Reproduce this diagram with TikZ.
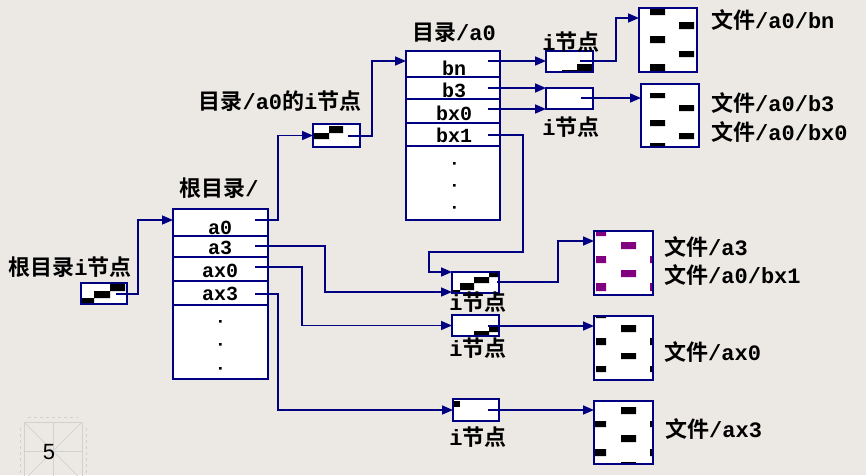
\documentclass[tikz,border=0pt]{standalone}
\usepackage{fontspec}
\setmonofont{Liberation Mono}
\setsansfont{Liberation Sans}
\newfontfamily\cjk{Noto Sans CJK SC}[BoldFont=* Bold]
\usetikzlibrary{arrows.meta}
\definecolor{bg}{RGB}{236,233,228}
\definecolor{navy}{RGB}{0,0,128}
\definecolor{purp}{RGB}{128,0,128}
\newcommand\zh[1]{{\cjk\bfseries #1}}
\newcommand\lblfont{\ttfamily\bfseries\fontsize{22}{24}\selectfont}
\newcommand\entfont{\ttfamily\bfseries\fontsize{20}{22}\selectfont}
\begin{document}
\begin{tikzpicture}[x=1pt,y=-1pt,
  boxline/.style={draw=navy,line width=1.6pt},
  box/.style={boxline,fill=white,inner sep=0pt,outer sep=0pt,rectangle},
  ptr/.style={draw=navy,line width=1.6pt,-{Triangle[length=11pt,width=9pt]}},
  lbl/.style={inner sep=0pt,font=\lblfont},
  ent/.style={inner sep=0pt,font=\entfont}]
\fill[bg] (0,0) rectangle (866,475);
\useasboundingbox (0,0) rectangle (866,475);

% slide number frame
\begin{scope}[draw=black!18,line width=0.7pt]
\draw (24,422) rectangle (82,480);
\draw (24,422) -- (82,480) (82,422) -- (24,480);
\draw (53,422) -- (53,480) (24,451) -- (82,451);
\draw[dashed] (28,417) -- (78,417);
\draw[dashed] (20,428) -- (20,475) (86,428) -- (86,475);
\end{scope}
\node[inner sep=0pt,font=\sffamily\fontsize{22}{24}\selectfont] (pg) at (49,452) {5};

% boxes
\node[box,minimum width=46pt,minimum height=21pt] (rin) at (104,293.5) {};
\node[box,minimum width=95pt,minimum height=170pt] (rd) at (220.5,294) {};
\node[box,minimum width=47pt,minimum height=23pt] (ai) at (336.5,135.5) {};
\node[box,minimum width=94pt,minimum height=169pt] (da) at (453,135.5) {};
\node[box,minimum width=47pt,minimum height=21pt] (bi1) at (569.5,61.5) {};
\node[box,minimum width=47pt,minimum height=21pt] (bi2) at (569.5,98.5) {};
\node[box,minimum width=58pt,minimum height=64pt] (fb1) at (668,40) {};
\node[box,minimum width=58pt,minimum height=63pt] (fb2) at (670,115.5) {};
\node[box,minimum width=47pt,minimum height=21pt] (bi3) at (475.5,282.5) {};
\node[box,minimum width=59pt,minimum height=64pt] (fa3) at (623.5,263) {};
\node[box,minimum width=47pt,minimum height=21pt] (bi4) at (475.5,325.5) {};
\node[box,minimum width=59pt,minimum height=64pt] (fx0) at (623.5,348) {};
\node[box,minimum width=46pt,minimum height=22pt] (bi5) at (476,410) {};
\node[box,minimum width=59pt,minimum height=63pt] (fx3) at (623.5,432.5) {};

% blocks
\fill[black] (110,284) rectangle (125,291) (94,291) rectangle (110,298) (81,298) rectangle (94,304);
\fill[black] (314,133) rectangle (329,139) (329,126) rectangle (343,133);
\fill[black] (577,64) rectangle (593,71) (562,70) rectangle (577,72);
\fill[black] (489,273) rectangle (499,277) (474,277) rectangle (489,283) (460,283) rectangle (474,290) (453,290) rectangle (460,293);
\fill[black] (474,331) rectangle (489,336) (489,326) rectangle (499,332);
\fill[black] (454,401) rectangle (460,407);
\fill[black] (650,9) rectangle (665,15) (650,36) rectangle (665,43) (650,64) rectangle (665,71)
  (679,22) rectangle (694,29) (679,51) rectangle (694,57);
\fill[black] (650,93) rectangle (665,98) (650,120) rectangle (665,126) (650,143) rectangle (665,147)
  (679,105) rectangle (694,111) (679,133) rectangle (694,139);
\fill[purp] (596,232) rectangle (606,236) (596,256) rectangle (606,263) (596,283) rectangle (606,291)
  (621,242) rectangle (636,249) (621,270) rectangle (636,277) (650,256) rectangle (653,263) (650,283) rectangle (653,291);
\fill[black] (596,316) rectangle (606,318) (621,325) rectangle (636,332) (621,353) rectangle (636,359)
  (596,338) rectangle (606,345) (596,366) rectangle (606,372) (650,338) rectangle (653,345) (650,366) rectangle (653,372);
\fill[black] (621,407) rectangle (636,414) (621,435) rectangle (636,442) (595,421) rectangle (606,427)
  (595,449) rectangle (606,456) (650,421) rectangle (653,427) (650,449) rectangle (653,456) (621,462) rectangle (636,464);

% borders redrawn over blocks
\foreach \n in {rin,ai,bi1,bi2,bi3,bi4,bi5,fb1,fb2,fa3,fx0,fx3}
  \draw[boxline] (\n.south west) rectangle (\n.north east);

% row lines
\draw[boxline] (173,236) -- (268,236) (173,257) -- (268,257) (173,281) -- (268,281) (173,305) -- (268,305);
\draw[boxline] (406,77) -- (500,77) (406,99) -- (500,99) (406,123) -- (500,123) (406,146) -- (500,146);

% entries
\node[ent] (ea0) at (220,228) {a0};
\node[ent] (ea3) at (220,248) {a3};
\node[ent] (eax0) at (220,271) {ax0};
\node[ent] (eax3) at (220,294) {ax3};
\node[ent] (ebn) at (454,68) {bn};
\node[ent] (eb3) at (454,90) {b3};
\node[ent] (ebx0) at (454,113) {bx0};
\node[ent] (ebx1) at (454,135) {bx1};
\fill[black] (219,320) rectangle (221.5,322.5) (219,343) rectangle (221.5,345.5) (219,367) rectangle (221.5,369.5);
\fill[black] (453,162) rectangle (455.5,164.5) (453,184) rectangle (455.5,186.5) (453,206) rectangle (455.5,208.5);

% labels
\node[lbl] (lrin) at (70,267) {\zh{根目录}i\zh{节点}};
\node[lbl] (lrd) at (219,188) {\zh{根目录}/};
\node[lbl] (lai) at (280,101) {\zh{目录}/a0\zh{的}i\zh{节点}};
\node[lbl] (lda) at (454,33) {\zh{目录}/a0};
\node[lbl] (lbi1) at (571,42) {i\zh{节点}};
\node[lbl] (lbi2) at (571,127) {i\zh{节点}};
\node[lbl] (lbi3) at (478,302) {i\zh{节点}};
\node[lbl] (lbi4) at (478,348) {i\zh{节点}};
\node[lbl] (lbi5) at (478,437) {i\zh{节点}};
\node[lbl,anchor=west] (lfb1) at (711,20) {\zh{文件}/a0/bn};
\node[lbl,anchor=west] (lfb2a) at (711,103) {\zh{文件}/a0/b3};
\node[lbl,anchor=west] (lfb2b) at (711,132) {\zh{文件}/a0/bx0};
\node[lbl,anchor=west] (lfa3a) at (664,247) {\zh{文件}/a3};
\node[lbl,anchor=west] (lfa3b) at (664,275) {\zh{文件}/a0/bx1};
\node[lbl,anchor=west] (lfx0) at (664,352) {\zh{文件}/ax0};
\node[lbl,anchor=west] (lfx3) at (665,429) {\zh{文件}/ax3};

% pointer start points
\coordinate (prin) at (116,294);
\coordinate (pa0) at (255,220);
\coordinate (pa3) at (255,246);
\coordinate (pax0) at (255,267);
\coordinate (pax3) at (255,294);
\coordinate (pai) at (348,136);
\coordinate (pbn) at (488,61);
\coordinate (pb3) at (488,88);
\coordinate (pbx0) at (488,109);
\coordinate (pbx1) at (488,135);
\coordinate (pbi1) at (580,61);
\coordinate (pbi2) at (581,98);
\coordinate (pbi3) at (497,282);
\coordinate (pbi4) at (488,326);
\coordinate (pbi5) at (488,410);
\coordinate (wbx1) at (523,252);

% connectors
\draw[ptr] (prin) -| ([xshift=-35pt,yshift=-11pt]rd.north west) -- ([yshift=-11pt]rd.north west);
\draw[ptr] (pa0) -| ([xshift=-35pt]ai.west) -- (ai.west);
\draw[ptr] (pai) -| ([xshift=-34pt,yshift=-10pt]da.north west) -- ([yshift=-10pt]da.north west);
\draw[ptr] (pbn) -- (pbn -| bi1.west);
\draw[ptr] (pb3) -- (pb3 -| bi2.west);
\draw[ptr] (pbx0) -- (pbx0 -| bi2.west);
\draw[ptr] (pbi1) -| ([xshift=-23pt,yshift=-10pt]fb1.north west) -- ([yshift=-10pt]fb1.north west);
\draw[ptr] (pbi2) -- (pbi2 -| fb2.west);
\draw[ptr] (pbx1) -| (wbx1) -| ([xshift=-23pt]bi3.north west) -- (bi3.north west);
\draw[ptr] (pa3) -| ([xshift=-127pt,yshift=1pt]bi3.south west) -- ([yshift=1pt]bi3.south west);
\draw[ptr] (pbi3) -| ([xshift=-36pt,yshift=-10pt]fa3.north west) -- ([yshift=-10pt]fa3.north west);
\draw[ptr] (pax0) -| ([xshift=-150pt]bi4.west) -- (bi4.west);
\draw[ptr] (pbi4) -- (pbi4 -| fx0.west);
\draw[ptr] (pax3) -| ([xshift=-175pt]bi5.west) -- (bi5.west);
\draw[ptr] (pbi5) -- (pbi5 -| fx3.west);
\end{tikzpicture}
\end{document}
